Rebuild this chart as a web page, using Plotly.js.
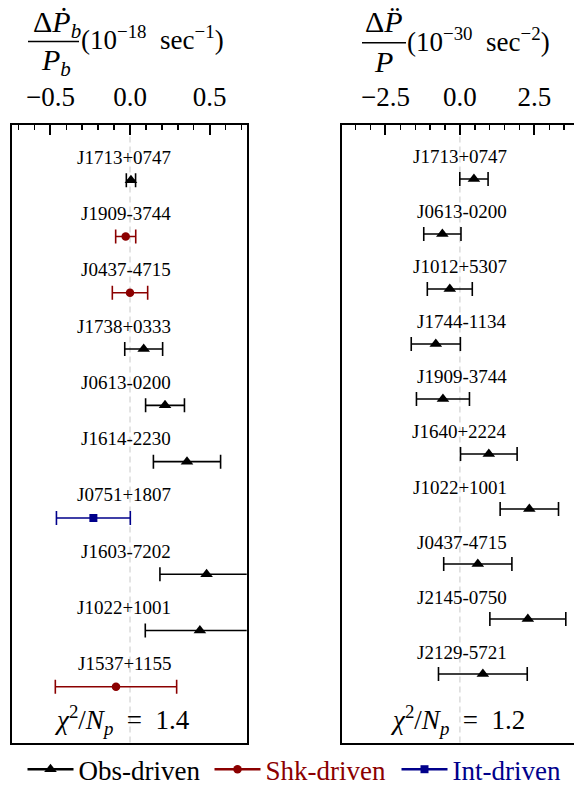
<!DOCTYPE html>
<html><head><meta charset="utf-8">
<script src="https://cdn.plot.ly/plotly-3.0.1.min.js"></script>
<style>html,body{margin:0;padding:0;overflow:hidden;background:#fff}</style>
</head><body><div id="chart" style="width:574px;height:791px"></div>
<script>
// ---- data ----
const leftNames = ['J1713+0747','J1909-3744','J0437-4715','J1738+0333','J0613-0200','J1614-2230','J0751+1807','J1603-7202','J1022+1001','J1537+1155'];
const leftVals  = [0.006,-0.027,0.0,0.086,0.22,0.358,-0.23,0.481,0.439,-0.088];
const leftErrs  = [0.029,0.063,0.111,0.119,0.122,0.211,0.232,0.293,0.343,0.381];
const leftType  = ['obs','shk','shk','obs','obs','obs','int','obs','obs','shk'];

const rightNames = ['J1713+0747','J0613-0200','J1012+5307','J1744-1134','J1909-3744','J1640+2224','J1022+1001','J0437-4715','J2145-0750','J2129-5721'];
const rightVals  = [0.47,-0.59,-0.34,-0.81,-0.57,0.97,2.33,0.6,2.28,0.77];
const rightErrs  = [0.475,0.625,0.755,0.825,0.89,0.95,0.98,1.145,1.275,1.49];
const rightType  = ['obs','obs','obs','obs','obs','obs','obs','obs','obs','obs'];

const typeLabels = {obs:'Obs-driven', shk:'Shk-driven', int:'Int-driven'};
const typeColors = {obs:'#000000', shk:'#8b0000', int:'#00008b'};
const typeSymbols = {obs:'triangle-up', shk:'circle', int:'square'};
const chiLeft = '1.4', chiRight = '1.2';

// ---- layout helpers ----
const W = 574, H = 791;
const X = px => px / W;
const Y = py => 1 - py / H;
const FONT = 'Liberation Serif';
const markerSize = {obs:11, shk:8.5, int:8};

function panelTraces(names, vals, errs, types, xa, ya) {
  const out = [];
  ['obs','shk','int'].forEach(t => {
    const idx = types.map((v,i)=>v===t?i:-1).filter(i=>i>=0);
    if (!idx.length) return;
    out.push({
      type:'scatter', mode:'markers', xaxis:xa, yaxis:ya, showlegend:false,
      x: idx.map(i=>vals[i]), y: idx.map(i=>i),
      marker:{symbol:typeSymbols[t], color:typeColors[t], size:markerSize[t]},
      error_x:{type:'data', array: idx.map(i=>errs[i]), visible:true, color:typeColors[t], thickness:1.6, width:7},
      hoverinfo:'skip'
    });
  });
  return out;
}

const traces = [
  ...panelTraces(leftNames, leftVals, leftErrs, leftType, 'x', 'y'),
  ...panelTraces(rightNames, rightVals, rightErrs, rightType, 'x2', 'y2'),
];
// legend entries
['obs','shk','int'].forEach(t => {
  traces.push({
    type:'scatter', mode:'lines+markers', x:[null], y:[null], xaxis:'x', yaxis:'y',
    name:'<span style="color:'+typeColors[t]+'">'+typeLabels[t]+'</span>',
    marker:{symbol:typeSymbols[t], color:typeColors[t], size:markerSize[t]},
    line:{color:typeColors[t], width:2.5}, showlegend:true
  });
});

const annotations = [];
leftNames.forEach((n,i)=>annotations.push({xref:'x',yref:'y',x:0.272,y:i,text:n,showarrow:false,xanchor:'right',yanchor:'middle',yshift:23,font:{size:19}}));
rightNames.forEach((n,i)=>annotations.push({xref:'x2',yref:'y2',x:1.647,y:i,text:n,showarrow:false,xanchor:'right',yanchor:'middle',yshift:22,font:{size:19}}));
const chiText = v => '<i>χ</i><sup>2</sup>/<i>N</i><sub><i>p</i></sub>&nbsp;&nbsp;=&nbsp;&nbsp;' + v;
annotations.push({xref:'paper',yref:'paper',x:X(122),y:Y(720),text:chiText(chiLeft),showarrow:false,xanchor:'center',yanchor:'middle',font:{size:27}});
annotations.push({xref:'paper',yref:'paper',x:X(457.5),y:Y(720),text:chiText(chiRight),showarrow:false,xanchor:'center',yanchor:'middle',font:{size:27}});
// axis titles (fractions)
annotations.push({xref:'paper',yref:'paper',x:X(56.5),y:Y(24),text:'Δ<i>Ṗ</i><sub><i>b</i></sub>',showarrow:false,xanchor:'center',yanchor:'middle',font:{size:30}});
annotations.push({xref:'paper',yref:'paper',x:X(56),y:Y(62),text:'<i>P</i><sub><i>b</i></sub>',showarrow:false,xanchor:'center',yanchor:'middle',font:{size:30}});
annotations.push({xref:'paper',yref:'paper',x:X(79),y:Y(38),text:'(10<sup>−18</sup>&nbsp;&nbsp;sec<sup>−1</sup>)',showarrow:false,xanchor:'left',yanchor:'middle',font:{size:27}});
annotations.push({xref:'paper',yref:'paper',x:X(383.5),y:Y(22),text:'Δ<i>P̈</i>',showarrow:false,xanchor:'center',yanchor:'middle',font:{size:30}});
annotations.push({xref:'paper',yref:'paper',x:X(383),y:Y(62),text:'<i>P</i>',showarrow:false,xanchor:'center',yanchor:'middle',font:{size:30}});
annotations.push({xref:'paper',yref:'paper',x:X(405),y:Y(40),text:'(10<sup>−30</sup>&nbsp;&nbsp;sec<sup>−2</sup>)',showarrow:false,xanchor:'left',yanchor:'middle',font:{size:27}});

const shapes = [
  {type:'line',xref:'paper',yref:'paper',x0:X(28),x1:X(79),y0:Y(41.5),y1:Y(41.5),line:{color:'#000',width:1.6}},
  {type:'line',xref:'paper',yref:'paper',x0:X(362),x1:X(406),y0:Y(42.7),y1:Y(42.7),line:{color:'#000',width:1.6}},
  {type:'line',xref:'x',yref:'y domain',x0:0,x1:0,y0:0,y1:1,layer:'below',line:{color:'#c8c8c8',width:1,dash:'6px,4px'}},
  {type:'line',xref:'x2',yref:'y2 domain',x0:0,x1:0,y0:0,y1:1,layer:'below',line:{color:'#c8c8c8',width:1,dash:'6px,4px'}},
];

const xCommon = {side:'top', showline:true, mirror:true, linecolor:'#000', linewidth:2,
  ticks:'inside', ticklen:10, tickwidth:2, tickcolor:'#000', showgrid:false, zeroline:false,
  tickformat:'.1f', tickfont:{size:27}, ticklabelstandoff:6, fixedrange:true};
const yCommon = {showline:true, linecolor:'#000', linewidth:2, ticks:'', showticklabels:false,
  showgrid:false, zeroline:false, fixedrange:true};

const layout = {
  width:W, height:H, margin:{l:0,r:0,t:0,b:0,autoexpand:false}, paper_bgcolor:'#fff', plot_bgcolor:'#fff',
  font:{family:FONT, color:'#000'},
  xaxis: Object.assign({}, xCommon, {domain:[X(11.7),X(246.7)], range:[-0.743,0.733], tick0:0, dtick:0.5,
    minor:{ticks:'inside', ticklen:5, tickwidth:1.5, tickcolor:'#000', dtick:0.1, showgrid:false}, anchor:'y'}),
  yaxis: Object.assign({}, yCommon, {mirror:true, domain:[Y(742.5),Y(124.5)], range:[9.99,-0.99], anchor:'x'}),
  xaxis2: Object.assign({}, xCommon, {domain:[X(341.7),1], range:[-3.97,3.83], tick0:0, dtick:2.5,
    minor:{ticks:'inside', ticklen:5, tickwidth:1.5, tickcolor:'#000', dtick:0.5, showgrid:false}, anchor:'y2'}),
  yaxis2: Object.assign({}, yCommon, {mirror:false, domain:[Y(742.5),Y(124.5)], range:[10.245,-0.99], anchor:'x2'}),
  showlegend:true,
  legend:{orientation:'h', x:X(22.5), y:-0.004, xanchor:'left', yanchor:'bottom', font:{size:27},
    entrywidth:126, entrywidthmode:'pixels', bgcolor:'rgba(0,0,0,0)', itemwidth:46, tracegroupgap:0},
  annotations, shapes
};
Plotly.newPlot('chart', traces, layout, {staticPlot:true, displayModeBar:false});
</script></body></html>
